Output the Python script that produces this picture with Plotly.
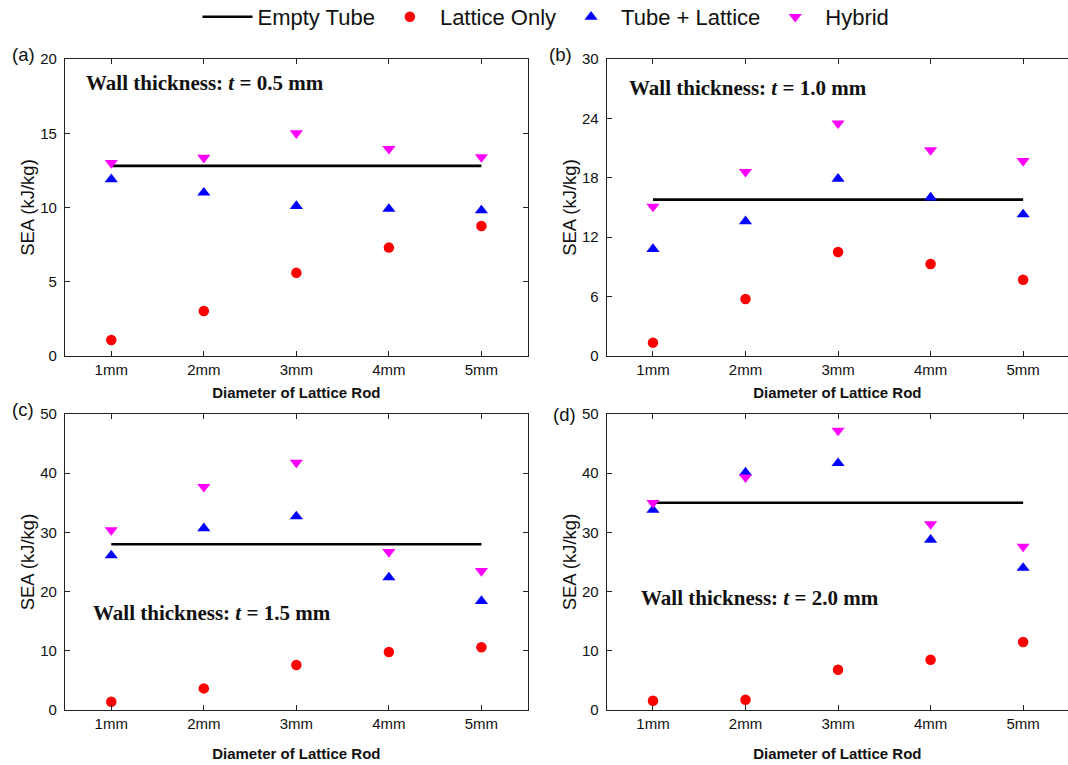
import plotly.graph_objects as go

W, H = 1068, 765

categories = ["1mm", "2mm", "3mm", "4mm", "5mm"]

empty_a = 12.8
lattice_a = [1.08, 3.03, 5.6, 7.3, 8.75]
tube_lat_a = [11.9, 11.0, 10.1, 9.9, 9.8]
hybrid_a = [13.0, 13.35, 15.0, 13.95, 13.4]

empty_b = 15.8
lattice_b = [1.35, 5.76, 10.5, 9.3, 7.7]
tube_lat_b = [10.8, 13.6, 17.9, 16.0, 14.3]
hybrid_b = [15.1, 18.6, 23.5, 20.8, 19.7]

empty_c = 28.0
lattice_c = [1.4, 3.65, 7.6, 9.8, 10.6]
tube_lat_c = [26.1, 30.7, 32.7, 22.4, 18.4]
hybrid_c = [30.4, 37.7, 41.8, 26.7, 23.5]

empty_d = 35.0
lattice_d = [1.57, 1.74, 6.8, 8.5, 11.5]
tube_lat_d = [33.8, 40.1, 41.7, 28.75, 24.0]
hybrid_d = [35.0, 39.3, 47.2, 31.4, 27.6]

panels = [
    dict(empty=empty_a, lat=lattice_a, tl=tube_lat_a, hy=hybrid_a, ymax=20, dtick=5,
         label="(a)", text="0.5"),
    dict(empty=empty_b, lat=lattice_b, tl=tube_lat_b, hy=hybrid_b, ymax=30, dtick=6,
         label="(b)", text="1.0"),
    dict(empty=empty_c, lat=lattice_c, tl=tube_lat_c, hy=hybrid_c, ymax=50, dtick=10,
         label="(c)", text="1.5"),
    dict(empty=empty_d, lat=lattice_d, tl=tube_lat_d, hy=hybrid_d, ymax=50, dtick=10,
         label="(d)", text="2.0"),
]

# layout geometry (pixels)
spacing = 92.54
xdoms = [(65, 527.7), (606.7, 1068), (65, 527.7), (606.7, 1068)]
ydoms = [(59, 356), (59, 356), (414, 710), (414, 710)]
label_pos = [(23, 55), (560, 55), (23, 409), (564, 414)]
text_pos = [(84, 83), (627, 88), (91, 613), (639, 598)]
title_standoff = [10, 10, 17, 17]

SANS = "Liberation Sans, Arial, sans-serif"
SERIF = "Liberation Serif, Times New Roman, serif"
AX = "#222222"

fig = go.Figure()
annotations = []
layout = {}

for i, p in enumerate(panels):
    n = "" if i == 0 else str(i + 1)
    xr, yr = "x" + n, "y" + n
    show = i == 0
    fig.add_trace(go.Scatter(x=categories, y=[p["empty"]] * len(categories), mode="lines",
                             line=dict(color="black", width=2.6), name="Empty Tube",
                             legendgroup="e", showlegend=show, xaxis=xr, yaxis=yr))
    fig.add_trace(go.Scatter(x=categories, y=p["lat"], mode="markers",
                             marker=dict(symbol="circle", color="#ff0000", size=10.5),
                             name="Lattice Only", legendgroup="l", showlegend=show,
                             xaxis=xr, yaxis=yr))
    fig.add_trace(go.Scatter(x=categories, y=p["tl"], mode="markers",
                             marker=dict(symbol="triangle-up", color="#0000ff", size=11.5),
                             name="Tube + Lattice", legendgroup="t", showlegend=show,
                             xaxis=xr, yaxis=yr))
    fig.add_trace(go.Scatter(x=categories, y=p["hy"], mode="markers",
                             marker=dict(symbol="triangle-down", color="#ff00ff", size=11.5),
                             name="Hybrid", legendgroup="h", showlegend=show,
                             xaxis=xr, yaxis=yr))

    x0, x1 = xdoms[i]
    y0, y1 = ydoms[i]
    right_units = (x1 - x0) / spacing
    right_edge = i in (1, 3)
    layout["xaxis" + n] = dict(
        domain=[x0 / W, x1 / W], anchor=yr, type="category",
        range=[-0.5, -0.5 + right_units],
        showline=True, linecolor=AX, linewidth=1.2, mirror="ticks",
        ticks="inside", ticklen=5, tickcolor=AX, tickwidth=1.2,
        showgrid=False, zeroline=False, automargin=False,
        tickfont=dict(family=SANS, size=15, color="#111"),
        title=dict(text="<b>Diameter of Lattice Rod</b>", standoff=title_standoff[i],
                   font=dict(family=SANS, size=15, color="#111")),
    )
    layout["yaxis" + n] = dict(
        domain=[1 - y1 / H, 1 - y0 / H], anchor=xr,
        range=[0, p["ymax"]], dtick=p["dtick"], tick0=0,
        showline=True, linecolor=AX, linewidth=1.2,
        mirror=False if right_edge else "ticks",
        ticks="inside", ticklen=5, tickcolor=AX, tickwidth=1.2,
        showgrid=False, zeroline=False, ticklabelstandoff=4, automargin=False,
        tickfont=dict(family=SANS, size=15, color="#111"),
        title=dict(text="SEA (kJ/kg)", standoff=0,
                   font=dict(family=SANS, size=18.5, color="#111")),
    )
    lx, ly = label_pos[i]
    annotations.append(dict(text=p["label"], x=lx / W, y=1 - ly / H, xref="paper", yref="paper",
                            xanchor="center", yanchor="middle", showarrow=False,
                            font=dict(family=SANS, size=18.5, color="#111")))
    tx, ty = text_pos[i]
    annotations.append(dict(text="<b>Wall thickness: <i>t</i> = " + p["text"] + " mm</b>",
                            x=tx / W, y=1 - ty / H, xref="paper", yref="paper",
                            xanchor="left", yanchor="middle", showarrow=False,
                            font=dict(family=SERIF, size=21, color="#111")))

fig.update_layout(
    width=W, height=H,
    margin=dict(l=0, r=0, t=0, b=0, autoexpand=False),
    paper_bgcolor="white", plot_bgcolor="white",
    font=dict(family=SANS, color="#111"),
    legend=dict(orientation="h", x=546 / W, xanchor="center", y=1 - 17 / H, yanchor="middle",
                font=dict(family=SANS, size=22, color="#111"), itemwidth=50,
                bgcolor="rgba(0,0,0,0)", tracegroupgap=0),
    annotations=annotations,
    **layout,
)

fig.write_html("out.html", config={"displayModeBar": False},
               post_script="document.body.style.margin='0';document.body.style.overflow='hidden';")
